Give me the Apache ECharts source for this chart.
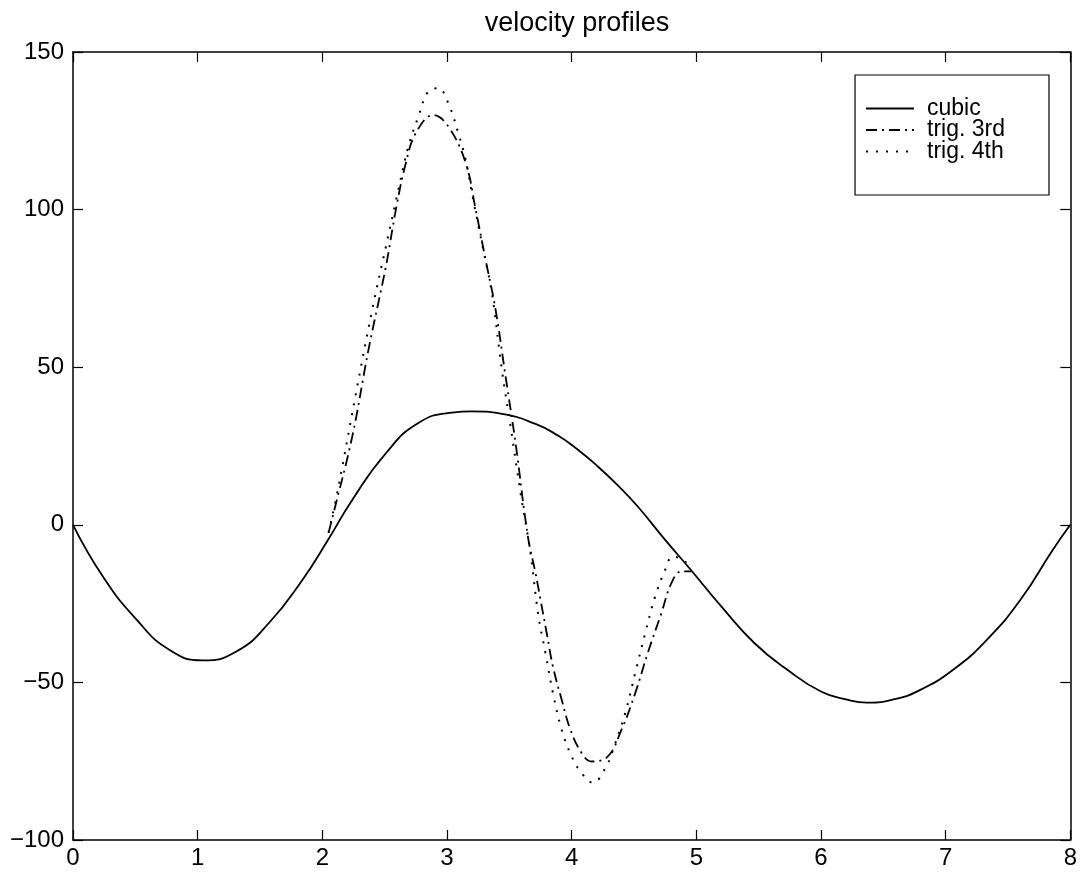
<!DOCTYPE html>
<html>
<head>
<meta charset="utf-8">
<script src="https://cdn.jsdelivr.net/npm/echarts@6/dist/echarts.min.js"></script>
<style>
html,body{margin:0;padding:0;background:#fff;}
#chart{width:1080px;height:874px;}
</style>
</head>
<body>
<div id="chart"></div>
<script>
// ---- data ----
var titleText = 'velocity profiles';
var seriesNames = ['cubic', 'trig. 3rd', 'trig. 4th'];
var xTicks = [0, 1, 2, 3, 4, 5, 6, 7, 8];
var yTicks = [-100, -50, 0, 50, 100, 150];

var cubicX = [0, 0.24, 0.51, 0.775, 1.04, 1.31, 1.575, 1.84, 2.05, 2.24, 2.51, 2.77, 3.04, 3.2, 3.44, 3.71, 3.89, 4.05, 4.21, 4.37, 4.53, 4.75, 4.96, 5.2, 5.465, 5.73, 6.0, 6.2, 6.37, 6.6, 6.8, 7.06, 7.33, 7.6, 7.86, 8.0];
var cubicY = [0, -16.4, -30.1, -39.7, -43.0, -40.2, -31.0, -17.5, -4.5, 7.9, 22.7, 32.3, 35.6, 36.0, 35.2, 32.0, 28.3, 23.8, 18.5, 12.5, 5.8, -4.8, -14.5, -25.9, -37.5, -46.0, -52.9, -55.4, -56.4, -55.2, -52.3, -46.0, -36.5, -23.8, -7.9, 0];

var trig3X = [2.05, 2.09, 2.24, 2.37, 2.51, 2.59, 2.67, 2.75, 2.89, 3.01, 3.15, 3.23, 3.31, 3.39, 3.47, 3.55, 3.65, 3.71, 3.75, 3.80, 3.85, 3.92, 3.99, 4.08, 4.16, 4.29, 4.40, 4.51, 4.61, 4.72, 4.80, 4.88, 4.96];
var trig3Y = [-2.5, 3.7, 28.0, 55.5, 82.0, 100.0, 114.8, 124.3, 130.0, 126.4, 114.8, 100.0, 84.0, 68.2, 47.0, 25.9, -4.0, -15.3, -23.8, -34.4, -45.0, -55.5, -65.0, -72.4, -75.1, -73.5, -65.0, -53.4, -40.7, -28.0, -18.5, -14.8, -14.8];

var trig4X = [2.05, 2.13, 2.27, 2.40, 2.51, 2.61, 2.69, 2.77, 2.85, 2.93, 3.01, 3.09, 3.15, 3.20, 3.28, 3.36, 3.44, 3.51, 3.59, 3.67, 3.73, 3.79, 3.85, 3.92, 4.00, 4.08, 4.17, 4.27, 4.35, 4.43, 4.51, 4.59, 4.67, 4.75, 4.81, 4.87, 4.92];
var trig4Y = [-2.5, 12.2, 41.8, 68.2, 88.3, 106.3, 120.0, 129.5, 137.5, 138.5, 133.8, 124.3, 115.8, 105.2, 89.4, 73.5, 49.2, 31.2, 10.1, -9.0, -28.0, -40.7, -53.4, -65.0, -73.5, -78.8, -81.8, -77.2, -69.3, -59.7, -47.0, -34.4, -22.7, -14.3, -10.1, -10.6, -12.0];

function zip(xs, ys) { return xs.map(function (x, i) { return [x, ys[i]]; }); }

var FONT = '"Liberation Sans", Arial, Helvetica, sans-serif';
var chart = echarts.init(document.getElementById('chart'), null, {renderer: 'canvas'});

function axisCommon(extra) {
  var base = {
    type: 'value',
    axisLine: {show: true, onZero: false, lineStyle: {color: '#000', width: 1.5}},
    axisTick: {show: true, inside: true, length: 10, lineStyle: {color: '#000', width: 1.2}},
    splitLine: {show: false},
    axisLabel: {show: false}
  };
  for (var k in extra) base[k] = extra[k];
  return base;
}

var minus = function (v) { return String(v).replace('-', '\u2212'); };

chart.setOption({
  animation: false,
  backgroundColor: '#fff',
  title: {
    text: titleText,
    left: 572, top: 5, textAlign: 'center',
    textStyle: {fontFamily: FONT, fontSize: 27, fontWeight: 'normal', color: '#000'}
  },
  grid: {left: 73, right: 6, top: 52, bottom: 34, containLabel: false},
  legend: {
    orient: 'vertical',
    right: 31, top: 75,
    data: seriesNames,
    backgroundColor: '#fff',
    borderColor: '#000', borderWidth: 1.2,
    padding: [22, 44, 32, 10],
    itemWidth: 48, itemHeight: 12, itemGap: -1.5,
    itemStyle: {opacity: 0},
    textStyle: {fontFamily: FONT, fontSize: 23, color: '#000', lineHeight: 20, padding: [0, 0, 0, 8]}
  },
  xAxis: [
    axisCommon({
      position: 'bottom', min: xTicks[0], max: xTicks[xTicks.length - 1], interval: 1,
      axisLabel: {show: true, color: '#000', fontFamily: FONT, fontSize: 24, margin: 6}
    }),
    axisCommon({position: 'top', min: xTicks[0], max: xTicks[xTicks.length - 1], interval: 1})
  ],
  yAxis: [
    axisCommon({
      position: 'left', min: yTicks[0], max: yTicks[yTicks.length - 1], interval: 50,
      axisLabel: {show: true, color: '#000', fontFamily: FONT, fontSize: 24, margin: 9, formatter: minus}
    }),
    axisCommon({position: 'right', min: yTicks[0], max: yTicks[yTicks.length - 1], interval: 50})
  ],
  series: [
    {
      name: seriesNames[0], type: 'line', xAxisIndex: 0, yAxisIndex: 0,
      data: zip(cubicX, cubicY), smooth: 0.5, symbol: 'none',
      lineStyle: {color: '#000', width: 1.8, type: 'solid'},
      itemStyle: {color: '#000'}
    },
    {
      name: seriesNames[1], type: 'line', xAxisIndex: 0, yAxisIndex: 0,
      data: zip(trig3X, trig3Y), smooth: 0.4, symbol: 'none',
      lineStyle: {color: '#000', width: 1.8, type: [11, 5, 2, 5]},
      itemStyle: {color: '#000'}
    },
    {
      name: seriesNames[2], type: 'line', xAxisIndex: 0, yAxisIndex: 0,
      data: zip(trig4X, trig4Y), smooth: 0.4, symbol: 'none',
      lineStyle: {color: '#000', width: 2, type: [2, 8]},
      itemStyle: {color: '#000'}
    }
  ]
});
</script>
</body>
</html>
